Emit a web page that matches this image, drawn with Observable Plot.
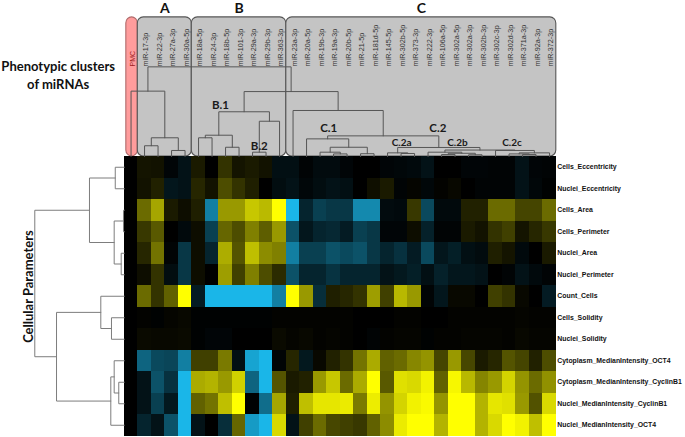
<!DOCTYPE html>
<html><head><meta charset="utf-8">
<script src="https://cdn.jsdelivr.net/npm/d3@7"></script>
<script src="https://cdn.jsdelivr.net/npm/@observablehq/plot@0.6"></script>
<style>html,body{margin:0;padding:0;background:#fff}svg{display:block}</style>
</head><body><div id="chart"></div>
<script>
const mirnas = ["PMC","miR-17-3p","miR-22-3p","miR-27a-3p","miR-30a-5p","miR-18a-5p","miR-24-3p","miR-18b-5p","miR-101-3p","miR-29a-3p","miR-29b-3p","miR-363-3p","miR-23a-3p","miR-20a-5p","miR-19b-3p","miR-19a-3p","miR-20b-5p","miR-21-5p","miR-181d-5p","miR-145-5p","miR-302b-5p","miR-373-3p","miR-222-3p","miR-106a-5p","miR-302a-5p","miR-302a-3p","miR-302b-3p","miR-302c-3p","miR-302d-3p","miR-371a-3p","miR-92a-3p","miR-372-3p"];
const parameters = ["Cells_Eccentricity","Nuclei_Eccentricity","Cells_Area","Cells_Perimeter","Nuclei_Area","Nuclei_Perimeter","Count_Cells","Cells_Solidity","Nuclei_Solidity","Cytoplasm_MedianIntensity_OCT4","Cytoplasm_MedianIntensity_CyclinB1","Nuclei_MedianIntensity_CyclinB1","Nuclei_MedianIntensity_OCT4"];

const cellsEccentricity = [0,.08,.07,-.03,-.1,.1,0,.2,.08,.1,.07,-.08,-.08,-.02,-.06,-.06,-.03,0,0,-.03,-.04,-.05,-.1,0,0,-.03,-.03,-.02,-.02,-.1,-.03,-.02];
const nucleiEccentricity = [0,.07,.13,-.12,-.1,.15,.07,.3,.2,.12,0,-.07,-.1,-.04,-.07,-.1,-.08,0,.06,.1,-.02,.02,-.04,.01,.03,0,-.02,-.02,-.02,-.1,-.04,-.01];
const cellsArea = [0,.42,.65,.1,.05,.12,-.7,.6,.6,.78,.73,1,-1,-.2,-.35,-.3,-.3,-.75,-.75,-.06,-.05,.22,-.4,-.05,-.05,.13,.13,.42,.42,.27,.27,.42];
const cellsPerimeter = [0,.22,.35,0,-.05,.05,-.35,.4,.3,.5,.37,.6,-.45,-.12,-.2,-.22,-.15,-.35,-.3,-.03,-.03,.05,-.18,-.02,-.02,.1,.07,.2,.25,.08,.15,.22];
const nucleiArea = [0,.15,.45,-.02,-.3,.05,-.2,.68,.33,.75,.55,.5,-.7,-.35,-.35,-.45,-.4,-.45,-.3,-.2,-.27,-.15,-.4,-.12,-.17,-.08,-.06,.12,.08,-.05,0,.1];
const nucleiPerimeter = [0,.05,.2,-.07,-.3,.05,0,.62,.25,.5,.3,.17,-.45,-.2,-.2,-.28,-.2,-.2,-.2,-.1,-.13,-.17,-.08,-.18,-.12,-.12,-.1,0,-.02,-.1,-.05,-.02];
const countCells = [0,.42,.2,.38,1,-.15,-1,-1,-1,-1,-1,-.7,1,.6,-.25,.12,.15,.2,.62,.25,.72,.6,-.02,-.12,.03,.03,0,.25,.2,.03,0,-.15];
const cellsSolidity = [0,.01,-.01,.02,.03,-.01,-.01,-.01,-.01,-.01,-.01,.01,.01,.01,.01,.01,.01,0,0,0,.01,.01,0,0,.01,.01,.01,.01,.01,.02,.01,.01];
const nucleiSolidity = [0,.04,.03,.03,.04,-.01,-.03,-.03,0,0,0,.04,.02,.03,.01,.02,.01,0,-.02,.01,.02,.02,-.01,.01,.01,.02,.02,.02,.01,.03,.02,.02];
const cytoplasmOCT4 = [0,-.55,-.4,-.38,-.7,.25,.25,.48,-.08,-.9,-1,-.02,.15,-.13,.03,.13,.2,.45,.67,.38,.42,.53,.58,.27,.6,.28,.1,.15,.33,.27,.13,.3];
const cytoplasmCyclinB1 = [0,-.1,-.45,-.27,-1,.67,.7,.6,.82,-.55,-1,.33,.1,.13,.6,.78,.42,.67,1,.35,.88,.85,.95,.38,.97,.72,.52,.6,.83,.58,.42,.57];
const nucleiCyclinB1 = [0,-.1,-.35,-.13,-1,.38,.45,.75,1,-.01,-.6,.65,.12,.75,.9,.9,.92,.48,.93,.58,.83,.95,.98,.58,1,1,.7,.9,.88,.6,.32,.85];
const nucleiOCT4 = [0,-.2,-.1,-.45,-1,-.1,0,-.25,.4,-.85,-1,.85,-.1,.25,.42,.28,.25,.22,.38,.55,.92,1,1,.7,1,1,.7,.85,1,.95,.75,1];
const rowsValues = [cellsEccentricity,nucleiEccentricity,cellsArea,cellsPerimeter,nucleiArea,nucleiPerimeter,countCells,cellsSolidity,nucleiSolidity,cytoplasmOCT4,cytoplasmCyclinB1,nucleiCyclinB1,nucleiOCT4];

// Dendrograms in the hclust convention: positive = leaf (1-based), negative = earlier merge.
const topMerges = [[2,3],[4,5],[-1,-2],[1,-3],[6,7],[8,9],[-5,-6],[10,11],[-8,12],[-7,-9],[16,17],[15,-11],[18,19],[-12,-13],[14,-14],[21,22],[20,-16],[24,25],[26,27],[-18,-19],[23,-20],[30,31],[29,-22],[-23,32],[28,-24],[-21,-25],[-17,-26],[-15,-27],[13,-28],[-10,-29],[-4,-30]];
const topHeights = [.5,.28,.87,3.04,.87,.43,.99,.2,1.64,2.08,.12,.2,.13,.43,.82,.14,.17,.09,.08,.15,.2,.09,.12,.17,.28,.3,.42,.96,2.14,3.02,4.17];
const leftMerges = [[1,2],[3,4],[5,6],[-2,-3],[-1,-4],[8,9],[7,-6],[11,12],[10,-8],[-9,13],[-7,-10],[-5,-11]];
const leftHeights = [.67,.06,.23,.75,2.58,.95,1.74,.41,.75,1,5.02,6.63];

const clusterNames = ["PMC","A","B","C"];
const clusterStart = [0.15,1,5,12];
const clusterEnd = [1,5,12,32];
const panelHeight = 6.47;

function build(merges, heights){
  const nodes = [], paths = [];
  merges.forEach(([a,b],i)=>{
    const get = c => c>0 ? {pos:c-.5,h:0} : nodes[-c-1];
    const A = get(a), B = get(b), h = heights[i];
    nodes.push({pos:(A.pos+B.pos)/2,h,id:i});
    paths.push({id:i,pos:A.pos,h:A.h},{id:i,pos:A.pos,h},{id:i,pos:B.pos,h},{id:i,pos:B.pos,h:B.h});
  });
  return {nodes,paths};
}
const topTree = build(topMerges, topHeights);
const leftTree = build(leftMerges, leftHeights);

const cells = rowsValues.flatMap((vals,r)=>vals.map((v,c)=>({r,c,v})));
const panels = clusterNames.map((name,i)=>({name,a:clusterStart[i],b:clusterEnd[i]}));
const labels = mirnas.map((name,i)=>({name,pos:i+.5}));
const params = parameters.map((name,i)=>({name,pos:i+.5}));

const headFont = "Lato, 'Noto Sans', sans-serif";
const smallFont = "'Liberation Sans', Arial, sans-serif";
const note = (text,node,dx,dy,fontSize) => Plot.text([topTree.nodes[node]],{x:"pos",y:d=>-d.h,text:()=>text,dx,dy,fontSize,fontWeight:700,fontFamily:headFont,fill:"#1a1a1a",textAnchor:"middle",lineAnchor:"middle"});

const chart = Plot.plot({
  width:685,height:437,
  marginLeft:123.8,marginRight:129.2,marginTop:156,marginBottom:1.5,
  style:{background:"#fff",overflow:"visible"},
  x:{domain:[0,32],axis:null},
  y:{domain:[13,0],axis:null},
  color:{type:"linear",domain:[-1,0,1],range:["#1ab6e8","#000000","#ffff00"],clamp:true},
  marks:[
    Plot.rect(panels,{x1:"a",x2:"b",y1:-panelHeight,y2:0,rx:6,ry:6,
      fill:d=>d.name==="PMC"?"#ff9c9c":"#c4c4c4",stroke:d=>d.name==="PMC"?"#b06a6a":"#555",strokeWidth:1.1}),
    Plot.rect(cells,{x1:"c",x2:d=>d.c+1,y1:"r",y2:d=>d.r+1,fill:"v",shapeRendering:"crispEdges"}),
    Plot.line(topTree.paths,{x:"pos",y:d=>-d.h,z:"id",stroke:"#565656",strokeWidth:1,curve:"linear"}),
    Plot.line(leftTree.paths,{x:d=>-d.h,y:"pos",z:"id",stroke:"#7d7d7d",strokeWidth:1,curve:"linear"}),
    Plot.text(labels.slice(1),{x:"pos",y:-4.19,text:"name",rotate:-90,textAnchor:"start",lineAnchor:"middle",dx:1.5,fontSize:7.2,fontFamily:smallFont,fill:"#333"}),
    Plot.text(labels.slice(0,1),{x:"pos",y:-4.19,text:"name",rotate:-90,textAnchor:"start",lineAnchor:"middle",dx:1.5,fontSize:7,fontFamily:smallFont,fill:"#9c1c1c"}),
    Plot.text(params,{x:32,y:"pos",text:"name",textAnchor:"start",lineAnchor:"middle",dx:1,fontSize:6.9,fontWeight:700,fontFamily:smallFont,fill:"#111"}),
    Plot.text(panels.slice(1),{x:d=>(d.a+d.b)/2,y:-panelHeight,text:"name",dy:-9,textAnchor:"middle",lineAnchor:"middle",fontSize:14,fontWeight:700,fontFamily:headFont,fill:"#111"}),
    note("B.1",9,-23.7,-6.3,11.5),
    note("B.2",7,0,-6,11.5),
    note("C.1",14,1,-10.6,11.5),
    note("C.2",26,-1,-18.7,11.5),
    note("C.2a",16,4,-9.6,10),
    note("C.2b",20,12.5,-9,10),
    note("C.2c",24,-3,-7.3,10),
    Plot.text(["Phenotypic clusters","of miRNAs"],{x:-4.9,y:(d,i)=>-4.19+i*.84,text:d=>d,textAnchor:"middle",lineAnchor:"middle",fontSize:13,fontWeight:700,fontFamily:headFont,fill:"#111"}),
    Plot.text(["Cellular Parameters"],{x:-7.1,y:6.05,text:d=>d,rotate:-90,textAnchor:"middle",lineAnchor:"middle",fontSize:13,fontWeight:700,fontFamily:headFont,fill:"#111"})
  ]
});
document.getElementById("chart").appendChild(chart);
</script></body></html>
